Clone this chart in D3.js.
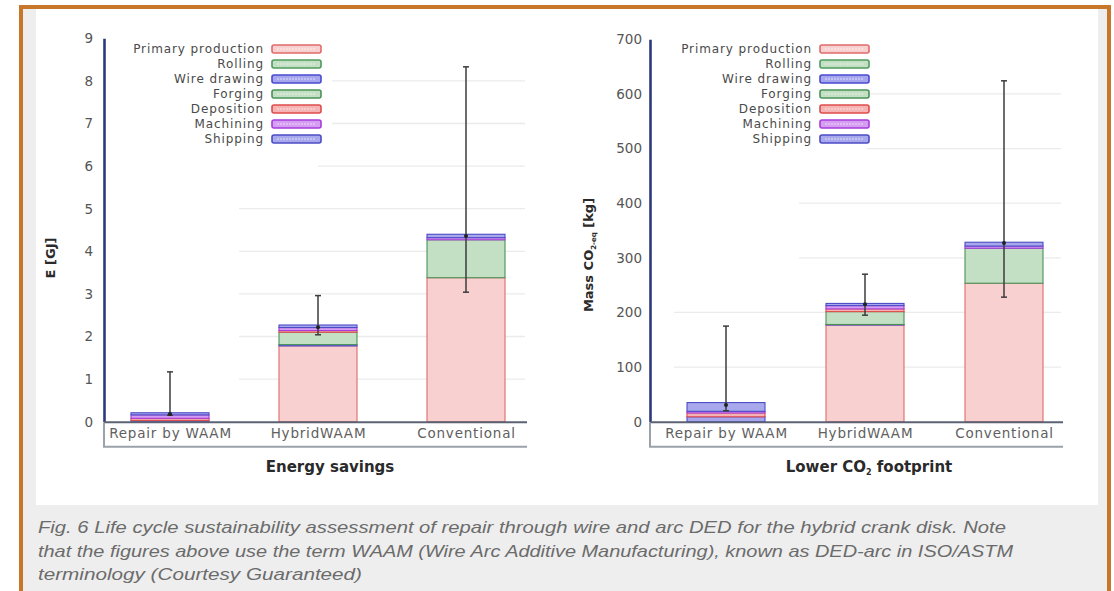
<!DOCTYPE html>
<html>
<head>
<meta charset="utf-8">
<script src="https://cdn.jsdelivr.net/npm/d3@7"></script>
<style>
  body { margin: 0; background: #fff; }
  svg { display: block; font-family: 'DejaVu Sans', sans-serif; }
</style>
</head>
<body>
<div id="chart"></div>
<script>
const categories = ['Repair by WAAM', 'HybridWAAM', 'Conventional'];
const stages = ['Primary production', 'Rolling', 'Wire drawing', 'Forging', 'Deposition', 'Machining', 'Shipping'];

// Energy per stage in GJ, one array per category, columns follow stages
const energyRepair = [0, 0, 0.03, 0, 0.05, 0.08, 0.05];
const energyHybrid = [1.78, 0, 0.03, 0.29, 0.04, 0.07, 0.06];
const energyConventional = [3.38, 0, 0, 0.89, 0, 0.05, 0.08];
const energyErrLow = [0.15, 2.04, 3.04];
const energyErrMid = [0.18, 2.22, 4.36];
const energyErrHigh = [1.17, 2.96, 8.33];
const energyTicks = [0, 1, 2, 3, 4, 5, 6, 7, 8, 9];

// Mass CO2-eq per stage in kg
const co2Repair = [0, 0, 9, 0, 7, 3, 16];
const co2Hybrid = [177, 0, 1, 23.5, 5, 6, 4];
const co2Conventional = [253.5, 0, 0, 64, 0, 4, 7];
const co2ErrLow = [20, 195, 228];
const co2ErrMid = [30.6, 215, 327];
const co2ErrHigh = [175, 270, 624];
const co2Ticks = [0, 100, 200, 300, 400, 500, 600, 700];

const stageFill = ['#f9d0d0', '#c4e0c4', '#a6a6ee', '#c4e0c4', '#f5b3b3', '#d69ef2', '#a8a8ec'];
const stageStroke = ['#e06b6b', '#4f9a5e', '#4a4ad0', '#4a9258', '#e04c4c', '#a53ddc', '#4c4cc6'];

const captionLines = [
    'Fig. 6 Life cycle sustainability assessment of repair through wire and arc DED for the hybrid crank disk. Note',
    'that the figures above use the term WAAM (Wire Arc Additive Manufacturing), known as DED-arc in ISO/ASTM',
    'terminology (Courtesy Guaranteed)'
];

const width = 1114, height = 591;

const svg = d3.select('#chart').append('svg')
    .attr('width', width)
    .attr('height', height);

// frame
svg.append('rect').attr('x', 21).attr('y', 7).attr('width', 1088).attr('height', 620)
    .attr('fill', '#eeeeee').attr('stroke', '#c8772a').attr('stroke-width', 4);
svg.append('rect').attr('x', 36).attr('y', 9).attr('width', 1062).attr('height', 496)
    .attr('fill', '#fff');

function drawPanel(cfg) {
    const y = d3.scaleLinear().domain([0, cfg.max]).range([cfg.bottom, cfg.top]);
    const x = d3.scalePoint().domain(categories).range(cfg.centers);

    const rows = categories.map((c, i) => {
        const r = { category: c };
        stages.forEach((s, j) => r[s] = cfg.values[i][j]);
        return r;
    });
    const series = d3.stack().keys(stages)(rows);

    const g = svg.append('g');

    // faint gridlines
    g.selectAll('.grid')
        .data(cfg.ticks.filter(t => t > 0 && t < cfg.max))
        .join('line')
        .attr('class', 'grid')
        .attr('x1', t => cfg.gridFrom(t))
        .attr('x2', cfg.right - 2)
        .attr('y1', t => y(t))
        .attr('y2', t => y(t))
        .attr('stroke', '#ebebeb')
        .attr('stroke-width', 1.3);

    // stacked bars
    g.selectAll('.layer')
        .data(series)
        .join('g')
        .attr('class', 'layer')
        .attr('fill', d => stageFill[d.index])
        .attr('stroke', d => stageStroke[d.index])
        .selectAll('rect')
        .data(d => d.filter(p => p[1] > p[0]))
        .join('rect')
        .attr('x', p => x(p.data.category) - cfg.barWidth / 2)
        .attr('y', p => y(p[1]))
        .attr('width', cfg.barWidth)
        .attr('height', p => y(p[0]) - y(p[1]))
        .attr('stroke-width', 1.1);

    // error bars
    const err = categories.map((c, i) => ({ c, lo: cfg.errLow[i], mid: cfg.errMid[i], hi: cfg.errHigh[i] }));
    const eg = g.selectAll('.err').data(err).join('g').attr('class', 'err')
        .attr('stroke', '#3d3d3d').attr('stroke-width', 1.5);
    eg.append('line')
        .attr('x1', d => x(d.c)).attr('x2', d => x(d.c))
        .attr('y1', d => y(d.lo)).attr('y2', d => y(d.hi));
    eg.append('line')
        .attr('x1', d => x(d.c) - 3).attr('x2', d => x(d.c) + 3)
        .attr('y1', d => y(d.hi)).attr('y2', d => y(d.hi));
    eg.append('line')
        .attr('x1', d => x(d.c) - 3).attr('x2', d => x(d.c) + 3)
        .attr('y1', d => y(d.lo)).attr('y2', d => y(d.lo));
    eg.append('circle')
        .attr('cx', d => x(d.c)).attr('cy', d => y(d.mid)).attr('r', 2)
        .attr('fill', '#222').attr('stroke', 'none');

    // y axis
    const yAxis = g.append('g')
        .attr('transform', `translate(${cfg.left},0)`)
        .call(d3.axisLeft(y).tickValues(cfg.ticks).tickSize(0).tickSizeOuter(0).tickPadding(cfg.tickPad).tickFormat(d3.format('d')));
    yAxis.select('.domain').attr('stroke', '#2c3a7c').attr('stroke-width', 2.6);
    yAxis.selectAll('text')
        .attr('font-family', 'DejaVu Sans, sans-serif')
        .attr('font-size', 13.5)
        .attr('fill', '#555');

    // x axis line and category box
    g.append('line')
        .attr('x1', cfg.left).attr('x2', cfg.right)
        .attr('y1', cfg.bottom + 0.5).attr('y2', cfg.bottom + 0.5)
        .attr('stroke', '#5b6273').attr('stroke-width', 2);
    g.append('path')
        .attr('d', `M${cfg.left},${cfg.bottom + 1}V${cfg.bottom + 25}H${cfg.right}`)
        .attr('fill', 'none').attr('stroke', '#9ca2ab').attr('stroke-width', 2);

    const xAxis = g.append('g')
        .attr('transform', `translate(0,${cfg.bottom})`)
        .call(d3.axisBottom(x).tickSize(0).tickPadding(7));
    xAxis.select('.domain').remove();
    xAxis.selectAll('text')
        .attr('font-family', 'DejaVu Sans, sans-serif')
        .attr('font-size', 13.5)
        .attr('letter-spacing', 0.8)
        .attr('fill', '#606060');

    // legend
    const lg = g.selectAll('.legend').data(stages).join('g').attr('class', 'legend')
        .attr('transform', (d, i) => `translate(${cfg.legendX},${49 + i * 15})`);
    lg.append('text')
        .attr('text-anchor', 'end')
        .attr('dy', '0.35em')
        .attr('font-size', 12)
        .attr('letter-spacing', 0.9)
        .attr('fill', '#4a4a4a')
        .text(d => d);
    lg.append('rect')
        .attr('x', 8).attr('y', -4).attr('width', 49).attr('height', 8).attr('rx', 2)
        .attr('fill', (d, i) => stageFill[i])
        .attr('stroke', (d, i) => stageStroke[i])
        .attr('stroke-width', 1.6);
    lg.append('line')
        .attr('x1', 13).attr('x2', 52).attr('y1', 0).attr('y2', 0)
        .attr('stroke', '#fff').attr('stroke-opacity', 0.6).attr('stroke-dasharray', '2,1');

    // titles
    const yt = g.append('text')
        .attr('transform', `translate(${cfg.yTitleX},${cfg.yTitleY}) rotate(-90)`)
        .attr('text-anchor', 'middle')
        .attr('font-size', 13)
        .attr('font-weight', 'bold')
        .attr('fill', '#2a2a2a');
    cfg.yTitle(yt);

    const xt = g.append('text')
        .attr('x', cfg.xTitleX).attr('y', cfg.bottom + 50)
        .attr('text-anchor', 'middle')
        .attr('font-size', 15)
        .attr('font-weight', 'bold')
        .attr('fill', '#2a2a2a');
    cfg.xTitle(xt);
}

drawPanel({
    max: 9, ticks: energyTicks,
    values: [energyRepair, energyHybrid, energyConventional],
    errLow: energyErrLow, errMid: energyErrMid, errHigh: energyErrHigh,
    left: 104, right: 527, top: 38.3, bottom: 421.7,
    centers: [170, 466], barWidth: 78, tickPad: 11,
    legendX: 264,
    gridFrom: t => t >= 7 ? 332 : (t >= 6 ? 318 : 239),
    yTitleX: 55, yTitleY: 258,
    yTitle: t => t.text('E [GJ]'),
    xTitleX: 330,
    xTitle: t => t.text('Energy savings')
});

drawPanel({
    max: 700, ticks: co2Ticks,
    values: [co2Repair, co2Hybrid, co2Conventional],
    errLow: co2ErrLow, errMid: co2ErrMid, errHigh: co2ErrHigh,
    left: 650, right: 1063, top: 39.3, bottom: 421.7,
    centers: [726, 1004], barWidth: 78, tickPad: 8,
    legendX: 812,
    gridFrom: t => t >= 500 ? 867 : (t >= 300 ? 799 : 674),
    yTitleX: 593, yTitleY: 255,
    yTitle: t => {
        t.append('tspan').text('Mass CO');
        t.append('tspan').attr('font-size', 7).attr('dy', 3).text('2-eq');
        t.append('tspan').attr('dy', -3).text(' [kg]');
    },
    xTitleX: 869,
    xTitle: t => {
        t.append('tspan').text('Lower CO');
        t.append('tspan').attr('font-size', 8).attr('dy', 3).text('2');
        t.append('tspan').attr('dy', -3).text(' footprint');
    }
});

// caption
const captionLengths = [968, 975, 324];
svg.selectAll('.caption')
    .data(captionLines)
    .join('text')
    .attr('class', 'caption')
    .attr('x', 38)
    .attr('y', (d, i) => 533 + i * 23.5)
    .attr('font-family', 'Liberation Sans, sans-serif')
    .attr('font-style', 'italic')
    .attr('font-size', 16.5)
    .attr('fill', '#6b6b6b')
    .attr('textLength', (d, i) => captionLengths[i])
    .attr('lengthAdjust', 'spacingAndGlyphs')
    .text(d => d);
</script>
</body>
</html>
